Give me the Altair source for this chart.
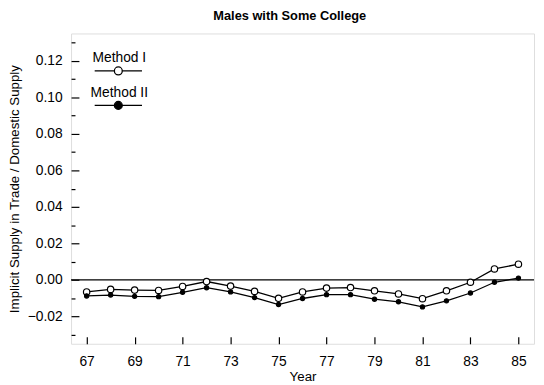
import altair as alt
import pandas as pd

years = list(range(67, 86))
method_1 = [-0.0066, -0.0052, -0.0056, -0.0058, -0.0036, -0.0009, -0.0034, -0.0063, -0.0101,
            -0.0066, -0.0045, -0.0042, -0.0060, -0.0077, -0.0103, -0.0060, -0.0013, 0.0060, 0.0086]
method_2 = [-0.0088, -0.0083, -0.0090, -0.0092, -0.0068, -0.0043, -0.0066, -0.0097, -0.0135,
            -0.0102, -0.0081, -0.0081, -0.0106, -0.0120, -0.0148, -0.0115, -0.0072, -0.0013, 0.0010]
series_names = ["Method I", "Method II"]
x_ticks = list(range(67, 86, 2))
y_major = [-0.02, 0.0, 0.02, 0.04, 0.06, 0.08, 0.10, 0.12]
y_minor = [-0.03, -0.01, 0.01, 0.03, 0.05, 0.07, 0.09, 0.11, 0.13]

df = pd.DataFrame({
    "year": years * 2,
    "value": method_1 + method_2,
    "method": [series_names[0]] * len(years) + [series_names[1]] * len(years),
})

FONT = "Liberation Sans"
yscale = alt.Scale(domain=[-0.035, 0.135], nice=False, zero=False)
xscale = alt.Scale(domain=[66.35, 85.65], nice=False, zero=False)

x_enc = alt.X("year:Q", scale=xscale,
              axis=alt.Axis(values=x_ticks, format="d", title="Year", domain=False, grid=False,
                            tickSize={"expr": "-7"}, tickColor="black", tickWidth=1.2,
                            labelPadding=18, labelFontSize=14, labelFont=FONT, labelColor="black",
                            titleFont=FONT, titleFontSize=13.5, titleFontWeight="normal",
                            titleColor="black", titlePadding=1, labelFlush=False))
y_enc = alt.Y("value:Q", scale=yscale,
              axis=alt.Axis(values=y_major, format=".2f", domain=False, ticks=False,
                            grid=True, gridColor="black", gridWidth=1.2, gridOpacity=1,
                            gridDash=[8, 2000], orient="left",
                            labelPadding=9,
                            labelFontSize=14, labelFont=FONT, labelColor="black",
                            title="Implicit Supply in Trade / Domestic Supply",
                            titleFont=FONT, titleFontSize=13.5, titleFontWeight="normal",
                            titleColor="black", titlePadding=6, labelFlush=False))
y_noaxis = alt.Y("value:Q", scale=yscale, axis=None)

base = alt.Chart(df)

lines = base.mark_line(color="black", strokeWidth=1.3).encode(
    x=x_enc, y=y_enc, detail="method:N"
)

zero = alt.Chart(pd.DataFrame({"v": [0.0]})).mark_rule(color="black", strokeWidth=1.2).encode(
    y=alt.Y("v:Q", scale=yscale,
            axis=alt.Axis(values=y_minor, labels=False, ticks=False, domain=False, title=None,
                          grid=True, gridColor="black", gridWidth=1.2, gridOpacity=1,
                          gridDash=[4, 2000], orient="left"))
)

sym_path = "M-3,0.75H-0.5M0.5,0.75H3M0.5,0.75A0.5,0.5 0 1,1 -0.5,0.75A0.5,0.5 0 1,1 0.5,0.75Z"

fill_scale = alt.Scale(domain=series_names, range=["white", "black"])
legend = alt.Legend(title=None, orient="none", legendX=39, legendY=23,
                    symbolType=sym_path, symbolSize=256,
                    symbolStrokeColor="black", symbolStrokeWidth=1.3,
                    labelAlign="center", labelOffset={"expr": "-8"}, labelBaseline="bottom",
                    labelFont=FONT, labelFontSize=14, labelColor="black",
                    rowPadding=8, padding=0)

open_pts = base.transform_filter(alt.datum.method == series_names[0]).mark_point(
    stroke="black", strokeWidth=1.2, opacity=1, size=42, filled=False
).encode(x=x_enc, y=y_noaxis, fill=alt.Fill("method:N", scale=fill_scale, legend=legend))

solid_pts = base.transform_filter(alt.datum.method == series_names[1]).mark_point(
    stroke="black", strokeWidth=1.2, opacity=1, size=18, filled=False
).encode(x=x_enc, y=y_noaxis, fill=alt.Fill("method:N", scale=fill_scale, legend=legend))

chart = alt.layer(zero, lines, open_pts, solid_pts).resolve_axis(y="independent").properties(
    width=470, height=315,
    title=alt.Title("Males with Some College", font=FONT, fontSize=13, fontWeight="bold",
                    color="black", offset=11, dx=-13),
    autosize=alt.AutoSizeParams(type="none"),
    padding={"left": 64, "top": 23, "right": 2, "bottom": 39},
).configure_view(stroke="black", strokeWidth=1.3).configure(background="white")

chart.save("out.html", embed_options={"renderer": "svg", "actions": False})
